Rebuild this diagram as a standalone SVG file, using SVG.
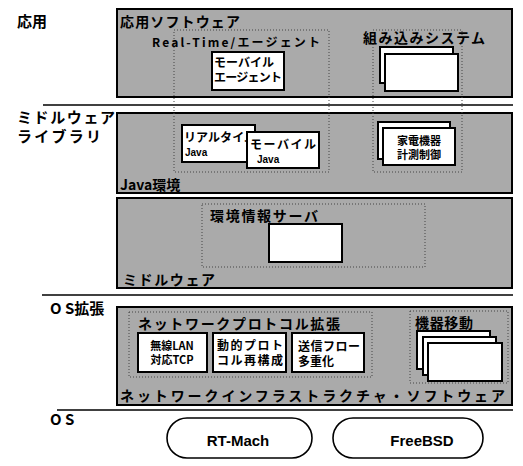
<svg xmlns="http://www.w3.org/2000/svg" width="523" height="466" viewBox="0 0 523 466">
<defs>
<style>
.layer{fill:#aaaaaa;stroke:#000;stroke-width:2}
.dot{fill:none;stroke:#444;stroke-width:1;stroke-dasharray:1 2}
.wbox{fill:#fff;stroke:#000;stroke-width:2}
.pill{fill:#fff;stroke:#000;stroke-width:1.6}
.sep{stroke:#000;stroke-width:1.6}
text{font-family:"Noto Sans CJK JP","Liberation Sans",sans-serif;font-weight:bold;fill:#000}
.side{font-size:15px}
.ttl{font-size:14px}
.sm{font-size:12px}
.xs{font-size:11px}
.j{font-size:10px;font-family:"Liberation Sans",sans-serif}
.os{font-family:"Liberation Sans",sans-serif;font-size:15px}
</style>
</defs>
<g id="separators">
<line class="sep" x1="43" y1="105" x2="513" y2="105"/>
<line class="sep" x1="42" y1="295" x2="513" y2="295"/>
<line class="sep" x1="57" y1="410" x2="513" y2="410"/>
</g>
<g id="side-labels">
<text class="side" x="17" y="27">応用</text>
<text class="side" x="17" y="123" textLength="98" lengthAdjust="spacing">ミドルウェア</text>
<text class="side" x="17" y="142" textLength="84" lengthAdjust="spacing">ライブラリ</text>
<text class="side" x="50" y="314">O S拡張</text>
<text class="side" x="50" y="425">O S</text>
</g>
<g id="app-software">
<rect class="layer" x="117" y="9" width="395" height="88"/>
<text class="ttl" x="120" y="27" textLength="120" lengthAdjust="spacing">応用ソフトウェア</text>
</g>
<g id="java-env">
<rect class="layer" x="117" y="113" width="395" height="80"/>
<text class="ttl" x="120" y="190">Java環境</text>
</g>
<g id="realtime-agent">
<rect class="dot" x="174" y="30" width="155" height="142"/>
<text class="sm" x="152" y="47" textLength="168" lengthAdjust="spacing">Real-Time/エージェント</text>
</g>
<g id="embedded">
<rect class="dot" x="373" y="30" width="89" height="142"/>
<text class="ttl" x="363" y="43" textLength="122" lengthAdjust="spacing">組み込みシステム</text>
</g>
<g id="mobile-agent">
<rect class="wbox" x="212" y="52" width="72" height="38"/>
<text class="sm" x="214" y="67">モーバイル</text>
<text class="sm" x="214" y="82" textLength="68" lengthAdjust="spacing">エージェント</text>
</g>
<g id="embedded-apps">
<rect class="wbox" x="380" y="47" width="73" height="36"/>
<rect class="wbox" x="385" y="54" width="73" height="37"/>
</g>
<g id="realtime-java">
<rect class="wbox" x="182" y="125" width="73" height="37"/>
<text class="sm" x="184" y="142" textLength="72" lengthAdjust="spacing">リアルタイム</text>
<text class="j" x="185" y="156">Java</text>
</g>
<g id="mobile-java">
<rect class="wbox" x="247" y="132" width="72" height="36"/>
<text class="sm" x="250" y="149" textLength="66" lengthAdjust="spacing">モーバイル</text>
<text class="j" x="257" y="163">Java</text>
</g>
<g id="appliance-control">
<rect class="wbox" x="378" y="122" width="72" height="37"/>
<rect class="wbox" x="383" y="128" width="72" height="37"/>
<text class="xs" x="419" y="145" text-anchor="middle">家電機器</text>
<text class="xs" x="419" y="159" text-anchor="middle">計測制御</text>
</g>
<g id="middleware">
<rect class="layer" x="117" y="198" width="395" height="90"/>
<text class="ttl" x="123" y="285" textLength="92" lengthAdjust="spacing">ミドルウェア</text>
</g>
<g id="env-info-server">
<rect class="dot" x="202" y="204" width="223" height="63"/>
<text class="ttl" x="210" y="221" textLength="108" lengthAdjust="spacing">環境情報サーバ</text>
<rect class="wbox" x="269" y="224" width="73" height="38"/>
</g>
<g id="network-infra">
<rect class="layer" x="117" y="307" width="395" height="98"/>
<text class="ttl" x="120" y="401" textLength="385" lengthAdjust="spacing">ネットワークインフラストラクチャ・ソフトウェア</text>
</g>
<g id="protocol-ext">
<rect class="dot" x="129" y="312" width="243" height="65"/>
<text class="ttl" x="138" y="329" textLength="202" lengthAdjust="spacing">ネットワークプロトコル拡張</text>
</g>
<g id="wireless-tcp">
<rect class="wbox" x="138" y="333" width="69" height="39"/>
<text class="xs" x="172" y="350" text-anchor="middle">無線LAN</text>
<text class="xs" x="172" y="364" text-anchor="middle">対応TCP</text>
</g>
<g id="dynamic-protocol">
<rect class="wbox" x="213" y="333" width="73" height="39"/>
<text class="sm" x="217" y="350" textLength="66" lengthAdjust="spacing">動的プロト</text>
<text class="sm" x="217" y="365" textLength="66" lengthAdjust="spacing">コル再構成</text>
</g>
<g id="flow-multiplex">
<rect class="wbox" x="292" y="333" width="72" height="39"/>
<text class="sm" x="298" y="351" textLength="62" lengthAdjust="spacing">送信フロー</text>
<text class="sm" x="298" y="366">多重化</text>
</g>
<g id="device-mobility">
<rect class="dot" x="410" y="311" width="98" height="72"/>
<text class="ttl" x="415" y="328" textLength="58" lengthAdjust="spacing">機器移動</text>
<rect class="wbox" x="417" y="331" width="73" height="38"/>
<rect class="wbox" x="423" y="337" width="73" height="38"/>
<rect class="wbox" x="428" y="343" width="74" height="38"/>
</g>
<g id="rt-mach">
<rect class="pill" x="167" y="418" width="145" height="40" rx="20"/>
<text class="os" x="238" y="446" text-anchor="middle">RT-Mach</text>
</g>
<g id="freebsd">
<rect class="pill" x="333" y="418" width="150" height="40" rx="20"/>
<text class="os" x="422" y="446" text-anchor="middle">FreeBSD</text>
</g>
<g id="connectors"/>
</svg>
